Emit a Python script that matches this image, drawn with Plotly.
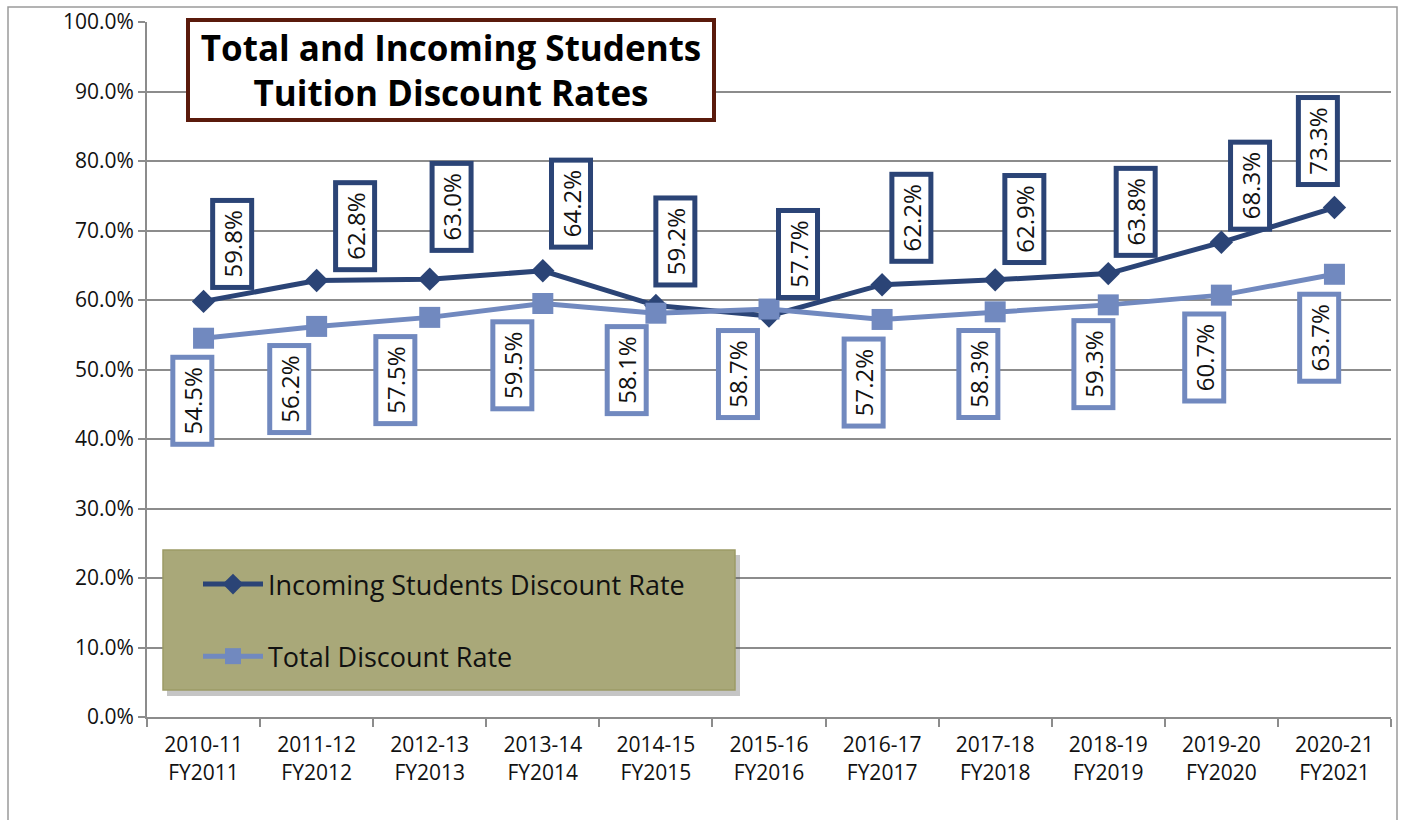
import plotly.graph_objects as go

categories = ["2010-11<br>FY2011", "2011-12<br>FY2012", "2012-13<br>FY2013", "2013-14<br>FY2014",
              "2014-15<br>FY2015", "2015-16<br>FY2016", "2016-17<br>FY2017", "2017-18<br>FY2018",
              "2018-19<br>FY2019", "2019-20<br>FY2020", "2020-21<br>FY2021"]
incoming = [0.598, 0.628, 0.630, 0.642, 0.592, 0.577, 0.622, 0.629, 0.638, 0.683, 0.733]
total = [0.545, 0.562, 0.575, 0.595, 0.581, 0.587, 0.572, 0.583, 0.593, 0.607, 0.637]

# label offsets (pixels) relative to each point: (dx, dy) with dy up-positive
inc_off = [(29, 57), (38, 54), (22, 72), (28, 67), (19, 64), (29, 62), (29, 67), (29, 61), (27, 62), (29, 57), (-17, 67)]
tot_off = [(-11, -63), (-27, -63), (-34, -63), (-30, -62), (-29, -57), (-31, -65), (-18, -63), (-17, -62), (-15, -59), (-17, -62), (-15, -63)]

DARK = "#2B4476"
LIGHT = "#7189BF"
FONT = "Open Sans"

fig = go.Figure()
fig.add_trace(go.Scatter(x=categories, y=incoming, name="Incoming Students Discount Rate",
                         mode="lines+markers", line=dict(color=DARK, width=5),
                         marker=dict(symbol="diamond", size=18, color=DARK),
                         legendgroup="a"))
fig.add_trace(go.Scatter(x=categories, y=total, name="Total Discount Rate",
                         mode="lines+markers", line=dict(color=LIGHT, width=5),
                         marker=dict(symbol="square", size=21, color=LIGHT),
                         legendgroup="b"))

W, H = 1403, 820
L, R, T, B = 147, 12, 22, 103
pw, ph = W - L - R, H - T - B

def px(x):
    return (x - L) / pw

def py(y):
    return (H - B - y) / ph

annotations = []
for vals, offs, col in ((incoming, inc_off, DARK), (total, tot_off, LIGHT)):
    for c, v, (dx, dy) in zip(categories, vals, offs):
        annotations.append(dict(x=c, y=v, xref="x", yref="y", text=f"{v*100:.1f}%",
                                showarrow=False, textangle=-90, xshift=dx, yshift=dy,
                                xanchor="center", yanchor="middle",
                                font=dict(family=FONT, size=24, color="#111"),
                                bgcolor="white", bordercolor=col, borderwidth=5,
                                borderpad=2, width=78, height=30))

annotations.append(dict(x=px(450.5), y=py(70), xref="paper", yref="paper",
                        text="<b>Total and Incoming Students<br>Tuition Discount Rates</b>",
                        showarrow=False, xanchor="center", yanchor="middle",
                        font=dict(family=FONT, size=35, color="#000"),
                        bgcolor="white", bordercolor="#5A1A0C", borderwidth=4,
                        borderpad=2, width=518, height=92))

shapes = [
    # outer frame
    dict(type="rect", xref="paper", yref="paper", x0=px(8), x1=px(1397), y0=py(830), y1=py(7),
         line=dict(color="#9a9a9a", width=1.5), fillcolor="rgba(0,0,0,0)", layer="below"),
    # legend shadow
    dict(type="rect", xref="paper", yref="paper", x0=px(167), x1=px(740), y0=py(696), y1=py(555),
         line=dict(width=0), fillcolor="rgba(90,90,90,0.35)", layer="above"),
    # legend background
    dict(type="rect", xref="paper", yref="paper", x0=px(163), x1=px(735), y0=py(690), y1=py(550),
         line=dict(color="#9c9a66", width=1.5), fillcolor="#A9A879", layer="above"),
]

fig.update_layout(
    width=W, height=H,
    margin=dict(l=L, r=R, t=T, b=B),
    paper_bgcolor="white", plot_bgcolor="white",
    font=dict(family=FONT, color="#111"),
    showlegend=True,
    legend=dict(x=px(198), y=py(560), xanchor="left", yanchor="top",
                bgcolor="rgba(0,0,0,0)", font=dict(family=FONT, size=27, color="#111"),
                tracegroupgap=34, itemwidth=60, traceorder="grouped"),
    annotations=annotations,
    shapes=shapes,
    xaxis=dict(type="category", range=[-0.5, 10.5], showline=True, linecolor="#8c8c8c", linewidth=2,
               ticks="outside", tickson="boundaries", ticklen=8, tickcolor="#8c8c8c", tickwidth=2,
               ticklabelstandoff=8, automargin=False,
               showgrid=False, tickfont=dict(family=FONT, size=21, color="#111")),
    yaxis=dict(range=[0, 1], dtick=0.1, tickformat=".1%", showline=True, linecolor="#8c8c8c",
               linewidth=2, ticks="outside", ticklen=7, tickcolor="#8c8c8c", tickwidth=2,
               showgrid=True, gridcolor="#8c8c8c", gridwidth=2, zeroline=False, automargin=False,
               tickfont=dict(family=FONT, size=21, color="#111")),
)

fig.write_html("out.html", config={"displayModeBar": False},
               post_script="document.body.style.margin='0';")
